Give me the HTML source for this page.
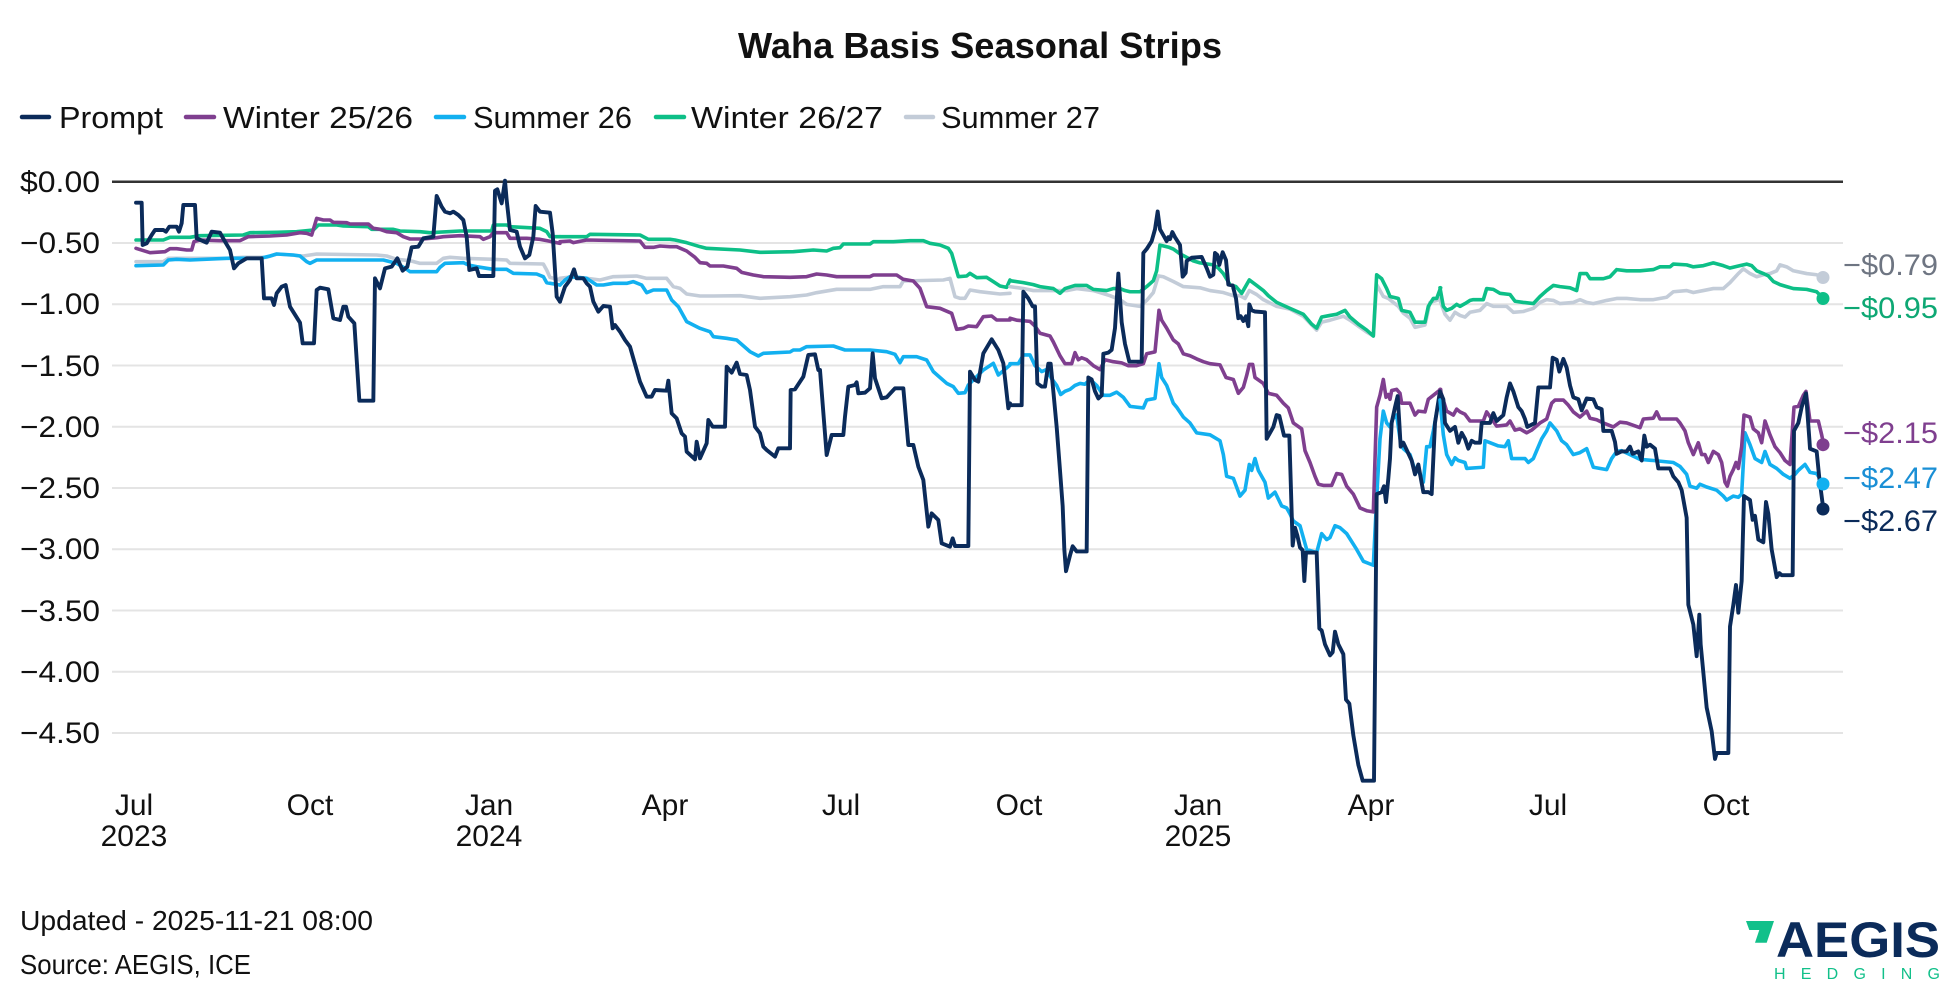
<!DOCTYPE html>
<html><head><meta charset="utf-8"><style>
html,body{margin:0;padding:0;background:#fff;}
svg{display:block;font-family:"Liberation Sans",sans-serif;}
.s{fill:none;stroke-linejoin:round;stroke-linecap:round;}
</style></head><body>
<svg width="1960" height="1002" viewBox="0 0 1960 1002" xmlns="http://www.w3.org/2000/svg">
<rect width="1960" height="1002" fill="#fff"/>
<text x="980" y="58" text-anchor="middle" font-weight="bold" font-size="36" textLength="484" lengthAdjust="spacingAndGlyphs" fill="#111">Waha Basis Seasonal Strips</text>

<!-- legend -->
<g font-size="31" fill="#111">
<line x1="22" y1="117" x2="49" y2="117" stroke="#0b2b5a" stroke-width="4.5" stroke-linecap="round"/>
<text x="59" y="128" textLength="104" lengthAdjust="spacingAndGlyphs">Prompt</text>
<line x1="186" y1="117" x2="214" y2="117" stroke="#7f3f8f" stroke-width="4.5" stroke-linecap="round"/>
<text x="223" y="128" textLength="190" lengthAdjust="spacingAndGlyphs">Winter 25/26</text>
<line x1="436" y1="117" x2="464" y2="117" stroke="#12b0f0" stroke-width="4.5" stroke-linecap="round"/>
<text x="473" y="128" textLength="159" lengthAdjust="spacingAndGlyphs">Summer 26</text>
<line x1="656" y1="117" x2="684" y2="117" stroke="#0dbf87" stroke-width="4.5" stroke-linecap="round"/>
<text x="691" y="128" textLength="192" lengthAdjust="spacingAndGlyphs">Winter 26/27</text>
<line x1="906" y1="117" x2="933" y2="117" stroke="#c3ccd8" stroke-width="4.5" stroke-linecap="round"/>
<text x="941" y="128" textLength="159" lengthAdjust="spacingAndGlyphs">Summer 27</text>
</g>

<!-- grid -->
<g stroke="#e4e4e4" stroke-width="2">
<line x1="112" y1="243" x2="1843" y2="243"/>
<line x1="112" y1="304.2" x2="1843" y2="304.2"/>
<line x1="112" y1="365.5" x2="1843" y2="365.5"/>
<line x1="112" y1="426.7" x2="1843" y2="426.7"/>
<line x1="112" y1="488" x2="1843" y2="488"/>
<line x1="112" y1="549.3" x2="1843" y2="549.3"/>
<line x1="112" y1="610.5" x2="1843" y2="610.5"/>
<line x1="112" y1="671.8" x2="1843" y2="671.8"/>
<line x1="112" y1="733" x2="1843" y2="733"/>
</g>
<line x1="112" y1="181.8" x2="1843" y2="181.8" stroke="#333" stroke-width="2.5"/>

<!-- y labels -->
<g font-size="30" fill="#111" text-anchor="end">
<text x="100" y="192" textLength="80" lengthAdjust="spacingAndGlyphs">$0.00</text>
<text x="100" y="253" textLength="80" lengthAdjust="spacingAndGlyphs">−0.50</text>
<text x="100" y="314" textLength="80" lengthAdjust="spacingAndGlyphs">−1.00</text>
<text x="100" y="376" textLength="80" lengthAdjust="spacingAndGlyphs">−1.50</text>
<text x="100" y="437" textLength="80" lengthAdjust="spacingAndGlyphs">−2.00</text>
<text x="100" y="498" textLength="80" lengthAdjust="spacingAndGlyphs">−2.50</text>
<text x="100" y="559" textLength="80" lengthAdjust="spacingAndGlyphs">−3.00</text>
<text x="100" y="621" textLength="80" lengthAdjust="spacingAndGlyphs">−3.50</text>
<text x="100" y="682" textLength="80" lengthAdjust="spacingAndGlyphs">−4.00</text>
<text x="100" y="743" textLength="80" lengthAdjust="spacingAndGlyphs">−4.50</text>
</g>

<!-- x labels -->
<g font-size="30" fill="#111" text-anchor="middle">
<text x="134" y="815">Jul</text><text x="134" y="846">2023</text>
<text x="310" y="815">Oct</text>
<text x="489" y="815">Jan</text><text x="489" y="846">2024</text>
<text x="665" y="815">Apr</text>
<text x="841" y="815">Jul</text>
<text x="1019" y="815">Oct</text>
<text x="1198" y="815">Jan</text><text x="1198" y="846">2025</text>
<text x="1371" y="815">Apr</text>
<text x="1548" y="815">Jul</text>
<text x="1726" y="815">Oct</text>
</g>

<!-- series chunk 1 -->
<g transform="matrix(0.33333,0,0,0.33333,110,170)">
<polyline class="s" vector-effect="non-scaling-stroke" stroke="#c3ccd8" stroke-width="3.6" points="78,275 160,275 175,265 240,265 350,265 400,262 470,262 500,252 580,258 600,255 620,252 800,255 830,258 860,268 900,272 930,280 980,280 1000,265 1020,262 1060,265 1150,268 1190,270 1200,280 1300,282 1310,300 1320,322 1350,330"/>
<polyline class="s" vector-effect="non-scaling-stroke" stroke="#0dbf87" stroke-width="3.6" points="78,210 160,210 180,202 240,202 270,197 400,195 420,188 500,187 560,185 610,180 625,165 650,165 680,165 700,168 775,170 785,178 850,178 870,183 930,185 960,188 1050,183 1145,183 1150,165 1190,165 1200,170 1290,175 1310,185 1320,200 1350,200"/>
<polyline class="s" vector-effect="non-scaling-stroke" stroke="#12b0f0" stroke-width="3.6" points="78,287 160,285 175,270 200,268 240,270 350,265 450,265 480,258 500,252 550,255 570,258 590,275 600,280 620,270 760,270 820,270 860,280 890,298 900,305 980,305 990,292 1005,280 1060,278 1075,285 1100,290 1130,295 1150,298 1190,298 1210,310 1280,312 1300,320 1310,338 1350,345"/>
<polyline class="s" vector-effect="non-scaling-stroke" stroke="#7f3f8f" stroke-width="3.6" points="78,235 120,248 165,245 180,236 200,236 230,240 245,240 252,215 270,210 330,212 390,212 415,200 480,198 530,195 570,188 590,190 605,195 620,145 640,150 660,150 670,157 710,158 720,162 775,162 790,175 810,178 830,185 860,188 880,200 900,207 940,207 980,203 1000,200 1050,197 1110,200 1120,208 1140,200 1150,188 1190,188 1200,205 1250,205 1290,208 1310,212 1350,220"/>
<polyline class="s" vector-effect="non-scaling-stroke" stroke="#0b2b5a" stroke-width="3.9" points="78,98 95,98 98,225 110,220 125,195 135,180 160,180 168,185 178,170 200,170 207,185 215,160 220,105 255,105 260,205 290,218 305,185 330,188 345,215 360,240 372,295 385,280 410,265 455,265 462,385 485,385 492,405 500,370 515,350 527,345 540,410 570,458 578,520 612,520 620,360 630,353 655,358 670,445 690,450 700,410 708,410 715,440 733,460 748,692 790,692 795,325 810,355 825,295 845,290 862,265 878,302 892,290 905,232 925,230 940,205 970,200 980,78 995,110 1005,125 1020,130 1030,125 1045,135 1060,150 1070,200 1078,300 1100,295 1107,318 1150,318 1155,62 1162,58 1175,100 1185,32 1190,90 1200,180 1220,185 1230,230 1245,265 1258,255 1270,200 1277,108 1290,125 1320,128 1328,190 1340,380 1350,395"/>
</g>

<!-- chunk 2 -->
<g transform="matrix(0.33333,0,0,0.33333,560,170)">
<polyline class="s" vector-effect="non-scaling-stroke" stroke="#c3ccd8" stroke-width="3.6" points="0,325 40,320 80,325 120,330 160,320 230,318 260,325 320,325 340,350 360,355 380,372 420,378 460,378 540,377 600,385 690,380 740,375 770,368 830,358 930,358 970,350 1020,350 1030,333 1150,330 1170,325 1185,380 1200,385 1215,385 1230,360 1260,365 1320,372 1350,370"/>
<polyline class="s" vector-effect="non-scaling-stroke" stroke="#0dbf87" stroke-width="3.6" points="0,200 80,200 90,193 240,195 265,208 330,208 345,210 380,218 420,230 440,235 540,240 600,247 700,245 760,240 800,243 820,235 840,233 850,222 930,222 940,215 1000,215 1050,212 1090,212 1110,220 1140,225 1165,235 1175,250 1195,320 1220,318 1230,310 1250,323 1280,322 1300,335 1320,348 1340,352 1350,330"/>
<polyline class="s" vector-effect="non-scaling-stroke" stroke="#12b0f0" stroke-width="3.6" points="0,345 15,330 30,320 80,325 110,345 130,345 160,340 200,340 220,335 245,345 260,368 280,360 320,360 335,390 355,410 380,455 420,475 450,485 460,500 500,505 530,510 570,545 595,558 610,550 690,546 700,540 720,540 740,530 820,528 855,540 930,540 980,545 1005,553 1020,578 1030,560 1070,560 1100,570 1120,605 1160,640 1180,650 1195,670 1215,668 1225,645 1240,630 1270,600 1300,580 1315,615 1350,585"/>
<polyline class="s" vector-effect="non-scaling-stroke" stroke="#7f3f8f" stroke-width="3.6" points="0,215 30,213 40,218 80,210 240,213 255,232 280,232 300,228 330,230 350,230 380,243 405,262 420,278 440,280 450,288 490,288 530,295 545,307 580,315 610,320 690,322 740,320 770,312 800,315 830,320 930,320 940,315 1010,315 1030,328 1060,333 1080,355 1100,410 1140,415 1175,430 1190,478 1210,475 1225,468 1250,470 1270,440 1295,438 1310,450 1350,450"/>
<polyline class="s" vector-effect="non-scaling-stroke" stroke="#0b2b5a" stroke-width="3.9" points="0,395 15,350 30,330 42,298 50,325 70,325 80,340 90,350 100,395 115,425 130,408 150,410 158,475 165,465 180,485 195,510 210,530 240,635 260,680 275,680 285,660 320,662 325,632 335,730 350,745 365,790 375,800 380,845 405,868 410,815 420,865 440,820 445,750 458,770 495,770 500,590 515,608 530,578 540,612 560,615 570,660 585,770 600,790 610,830 620,840 645,860 655,835 690,835 692,660 705,658 730,620 745,555 765,553 775,600 780,600 800,855 815,795 850,795 855,740 865,650 885,645 890,637 895,670 915,668 930,655 938,550 945,625 965,685 980,682 1005,655 1030,655 1045,825 1060,825 1075,890 1090,930 1105,1070 1115,1030 1135,1050 1145,1120 1170,1130 1178,1105 1185,1128 1225,1128 1230,605 1245,630 1255,635 1270,550 1295,508 1315,540 1330,580 1345,715 1350,700"/>
</g>

<!-- chunk 3 -->
<g transform="matrix(0.33333,0,0,0.395257,1010,170)">
<polyline class="s" vector-effect="non-scaling-stroke" stroke="#c3ccd8" stroke-width="3.6" points="0,295 40,300 70,305 130,305 170,305 200,300 250,305 300,318 330,328 350,340 390,345 410,330 430,310 445,268 460,270 490,282 520,295 570,298 600,305 640,310 670,318 690,318 705,325 718,305 740,315 760,328 800,345 840,352 880,370 905,392 920,405 935,385 960,380 1000,370 1020,380 1045,395 1070,410 1090,420 1100,290 1120,320 1135,325 1150,335 1165,345 1180,362 1200,375 1215,398 1245,392 1260,335 1280,330 1292,325"/>
<polyline class="s" vector-effect="non-scaling-stroke" stroke="#0dbf87" stroke-width="3.6" points="0,280 40,285 70,290 90,295 130,300 150,312 165,300 195,292 230,292 250,302 290,305 310,300 330,300 345,305 360,308 390,308 410,295 430,280 440,255 450,190 475,195 490,200 510,212 550,230 570,235 610,240 625,248 640,262 660,290 678,295 695,312 718,278 740,292 760,305 775,318 800,335 840,350 880,365 905,390 920,400 935,372 960,368 980,365 1005,355 1020,372 1045,390 1070,405 1090,420 1100,265 1115,275 1130,300 1140,320 1165,325 1175,355 1200,360 1215,385 1245,385 1255,345 1270,325 1280,325 1292,298"/>
<polyline class="s" vector-effect="non-scaling-stroke" stroke="#12b0f0" stroke-width="3.6" points="0,490 25,490 40,468 60,468 75,495 95,510 110,505 125,528 140,545 152,568 165,560 180,555 195,545 210,540 225,542 240,530 260,545 280,570 300,570 320,562 340,575 360,598 400,602 410,582 435,578 447,490 455,525 470,545 490,590 500,600 520,625 540,640 560,665 600,670 630,685 640,720 650,775 670,780 690,825 705,810 718,745 725,760 735,730 745,760 765,790 775,830 795,815 815,850 830,855 840,870 850,888 870,900 890,960 920,968 935,920 950,935 960,930 975,900 990,905 1010,920 1040,960 1060,990 1090,1000 1100,830 1110,680 1120,610 1130,640 1140,650 1148,630 1160,620 1170,680 1180,705 1200,720 1215,760 1225,760 1240,790 1250,700 1260,700 1270,660 1285,590 1292,582"/>
<polyline class="s" vector-effect="non-scaling-stroke" stroke="#7f3f8f" stroke-width="3.6" points="0,375 20,380 60,383 75,395 90,413 120,420 130,435 150,470 165,490 185,490 195,462 205,480 215,475 230,480 250,495 270,505 285,480 310,485 335,488 355,495 380,495 400,490 410,465 435,460 447,355 455,380 470,400 490,430 505,440 520,465 540,470 560,478 580,485 600,490 630,493 648,525 670,530 685,565 700,550 710,520 718,492 728,492 735,525 760,540 775,565 800,570 820,590 835,602 850,640 875,655 885,710 900,740 915,775 925,795 940,798 965,798 980,768 995,770 1010,800 1030,820 1050,855 1070,862 1090,865 1100,600 1110,570 1120,530 1128,575 1135,568 1140,580 1145,558 1160,555 1170,565 1175,590 1200,590 1215,620 1225,610 1245,612 1255,580 1270,570 1292,555"/>
<polyline class="s" vector-effect="non-scaling-stroke" stroke="#0b2b5a" stroke-width="3.9" points="0,595 35,595 40,308 55,325 68,345 75,345 82,540 95,548 105,548 115,490 122,490 130,560 140,650 150,760 158,850 163,960 168,1015 180,975 188,952 200,965 230,965 235,525 245,530 255,560 265,578 275,570 280,465 295,462 305,455 315,400 325,262 335,385 345,440 358,485 395,485 400,210 410,200 425,180 435,150 443,105 450,150 460,165 470,180 475,170 480,175 487,157 495,170 510,190 518,270 527,260 530,230 545,222 575,220 590,248 600,270 610,265 615,210 622,215 628,240 638,208 648,228 655,290 668,292 678,325 685,375 692,370 700,382 708,370 715,395 718,340 725,355 735,358 765,360 770,680 790,650 800,620 808,622 822,672 838,672 848,950 855,905 862,925 870,955 878,962 883,1040 888,968 920,968 928,1160 935,1165 945,1200 960,1228 968,1220 975,1168 985,1200 1000,1225 1008,1340 1018,1350 1030,1430 1045,1505 1058,1545 1092,1545 1100,820 1115,815 1122,800 1128,840 1135,780 1140,730 1145,640 1155,600 1163,572 1168,640 1172,700 1180,690 1190,708 1205,735 1215,770 1225,745 1240,815 1255,815 1265,820 1275,640 1288,570 1292,560"/>
</g>

<!-- chunk 4 -->
<g transform="matrix(0.33333,0,0,0.395257,1440,170)">
<polyline class="s" vector-effect="non-scaling-stroke" stroke="#c3ccd8" stroke-width="3.6" points="0,330 15,365 30,380 45,360 60,368 75,372 90,360 120,355 140,338 160,345 200,345 220,360 250,358 280,350 300,335 320,328 340,330 360,338 400,335 420,328 440,335 460,338 500,330 530,325 560,325 600,328 640,328 680,322 700,308 740,305 760,310 790,305 820,300 850,300 870,285 895,262 910,250 930,262 950,270 970,265 990,262 1010,255 1020,240 1040,245 1060,255 1100,262 1130,265 1150,275"/>
<polyline class="s" vector-effect="non-scaling-stroke" stroke="#0dbf87" stroke-width="3.6" points="0,298 10,345 20,355 35,350 50,340 60,345 75,338 90,330 100,328 130,328 140,300 160,302 180,312 210,315 225,332 250,335 280,338 300,320 320,305 340,292 360,295 390,298 410,305 420,262 440,262 450,275 490,275 510,270 530,252 560,255 600,255 640,252 660,245 690,245 700,238 740,240 760,245 790,242 820,235 850,242 870,248 900,242 920,238 935,242 950,255 970,262 985,268 1000,282 1020,290 1040,295 1060,300 1100,302 1130,308 1150,325"/>
<polyline class="s" vector-effect="non-scaling-stroke" stroke="#12b0f0" stroke-width="3.6" points="0,582 10,670 20,720 35,745 45,728 55,735 75,740 80,755 130,752 135,685 150,690 175,698 195,700 205,685 215,730 255,730 265,740 280,730 290,710 305,680 320,660 330,640 350,660 365,685 380,695 400,720 420,715 440,705 460,752 500,758 515,730 530,712 545,710 600,732 640,735 700,740 720,750 740,770 750,800 770,805 780,795 800,802 830,810 850,825 860,835 880,825 895,828 905,820 915,665 930,695 945,730 965,740 975,712 990,745 1010,755 1030,770 1050,780 1065,770 1075,760 1095,745 1110,765 1130,768 1150,795"/>
<polyline class="s" vector-effect="non-scaling-stroke" stroke="#7f3f8f" stroke-width="3.6" points="0,555 20,610 40,620 50,605 60,612 75,618 90,635 130,635 140,612 155,630 170,648 200,645 210,635 225,658 240,655 260,665 275,658 300,640 320,630 335,590 345,582 370,582 385,595 400,612 420,625 440,610 450,628 470,632 490,640 520,650 540,638 560,640 600,652 610,630 640,628 650,612 660,630 710,630 720,640 735,660 745,690 760,720 775,690 785,720 795,720 805,740 820,712 835,720 845,740 855,790 862,800 870,775 880,758 888,740 895,755 905,700 912,620 930,625 940,655 955,665 965,690 975,635 990,670 1005,700 1020,715 1035,735 1050,745 1062,600 1075,598 1090,570 1098,560 1110,635 1135,635 1145,670 1150,690"/>
<polyline class="s" vector-effect="non-scaling-stroke" stroke="#0b2b5a" stroke-width="3.9" points="0,560 10,580 15,640 30,660 45,650 55,690 65,665 75,680 85,705 95,685 105,690 120,690 125,640 150,640 160,615 170,635 190,620 200,575 210,540 220,560 235,600 245,610 255,630 262,650 285,640 295,550 330,550 338,475 350,480 358,510 370,478 380,500 390,545 400,575 415,580 425,608 440,578 460,580 470,600 485,605 490,660 515,660 525,688 530,718 545,712 560,712 570,700 578,718 595,712 605,735 613,672 620,700 630,695 645,705 655,755 690,755 700,775 715,790 725,810 740,880 745,1100 760,1150 770,1230 778,1125 782,1200 800,1360 815,1420 825,1490 830,1475 865,1475 870,1155 880,1100 888,1050 895,1120 905,1040 912,825 930,835 938,885 945,875 955,935 970,942 978,840 985,870 995,960 1010,1030 1018,1020 1025,1025 1058,1025 1062,660 1075,640 1085,600 1098,565 1108,680 1110,705 1130,712 1138,780 1150,858"/>
</g>

<!-- end dots -->
<circle cx="1823" cy="277.5" r="6.5" fill="#c3ccd8"/>
<circle cx="1823" cy="298.5" r="6.5" fill="#0dbf87"/>
<circle cx="1823" cy="444.7" r="6.5" fill="#7f3f8f"/>
<circle cx="1823" cy="484" r="6.5" fill="#12b0f0"/>
<circle cx="1823" cy="509" r="6.5" fill="#0b2b5a"/>

<!-- end labels -->
<g font-size="30">
<text x="1843" y="275" fill="#6e7582" textLength="95" lengthAdjust="spacingAndGlyphs">−$0.79</text>
<text x="1843" y="318" fill="#0ea874" textLength="95" lengthAdjust="spacingAndGlyphs">−$0.95</text>
<text x="1843" y="443" fill="#7f3f8f" textLength="95" lengthAdjust="spacingAndGlyphs">−$2.15</text>
<text x="1843" y="488" fill="#1a8fd5" textLength="95" lengthAdjust="spacingAndGlyphs">−$2.47</text>
<text x="1843" y="531" fill="#0b2b5a" textLength="95" lengthAdjust="spacingAndGlyphs">−$2.67</text>
</g>

<!-- footer -->
<g font-size="28" fill="#111">
<text x="20" y="930" textLength="353" lengthAdjust="spacingAndGlyphs">Updated - 2025-11-21 08:00</text>
<text x="20" y="974" textLength="231" lengthAdjust="spacingAndGlyphs">Source: AEGIS, ICE</text>
</g>

<!-- logo -->
<polygon points="1746,921 1774,921 1766.7,942.7 1755,942.7 1759.3,930 1749.3,930" fill="#12c08a"/>
<text x="1776" y="957" font-size="50" font-weight="bold" fill="#0b2b5a" textLength="164" lengthAdjust="spacingAndGlyphs">AEGIS</text>
<text x="1774" y="979" font-size="16" fill="#12c08a" textLength="166" lengthAdjust="spacing">HEDGING</text>
</svg>
</body></html>
